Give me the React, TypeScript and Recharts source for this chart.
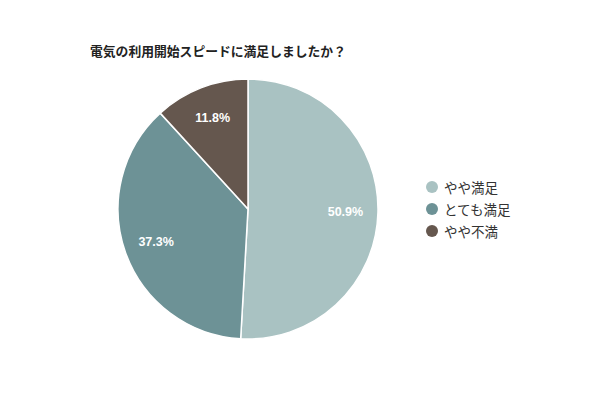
import React from "react";
import { PieChart, Pie, Cell, Legend } from "recharts";

const categories = ["やや満足", "とても満足", "やや不満"];
const values = [50.9, 37.3, 11.8];
const colors = ["#a9c2c2", "#6d9296", "#65574e"];
const title = "電気の利用開始スピードに満足しましたか？";

const data = categories.map((name, i) => ({ name, value: values[i] }));

const RADIAN = Math.PI / 180;

const renderLabel = (props: any) => {
  const { cx, cy, midAngle, outerRadius, value } = props;
  const r = outerRadius * 0.75;
  const x = cx + r * Math.cos(-midAngle * RADIAN);
  const y = cy + r * Math.sin(-midAngle * RADIAN);
  return (
    <text
      x={x}
      y={y}
      fill="#ffffff"
      textAnchor="middle"
      dominantBaseline="central"
      fontFamily="'Liberation Sans', Arial, sans-serif"
      fontWeight="bold"
      fontSize={12.5}
    >
      {value.toFixed(1)}%
    </text>
  );
};

const renderLegend = () => (
  <div style={{ fontFamily: "'Noto Sans CJK JP', sans-serif", fontSize: 13.5, color: "#333" }}>
    {categories.map((c, i) => (
      <div key={c} style={{ display: "flex", alignItems: "center", height: 22 }}>
        <span
          style={{
            width: 12,
            height: 12,
            borderRadius: 6,
            background: colors[i],
            display: "inline-block",
            marginRight: 6,
          }}
        />
        <span>{c}</span>
      </div>
    ))}
  </div>
);

export default function App() {
  return (
    <div style={{ position: "absolute", left: 0, top: 0, width: 600, height: 400, background: "#fff" }}>
      <div
        style={{
          position: "absolute",
          left: 90,
          top: 43,
          fontFamily: "'Noto Sans CJK JP', sans-serif",
          fontWeight: "bold",
          fontSize: 12.8,
          color: "#222",
          whiteSpace: "nowrap",
          lineHeight: "16px",
        }}
      >
        {title}
      </div>
      <PieChart width={600} height={400} margin={{ top: 0, right: 0, bottom: 0, left: 0 }}>
        <Pie
          data={data}
          dataKey="value"
          nameKey="name"
          cx={248}
          cy={209}
          outerRadius={130}
          startAngle={90}
          endAngle={-270}
          stroke="#ffffff"
          strokeWidth={1.5}
          label={renderLabel}
          labelLine={false}
          isAnimationActive={false}
        >
          {data.map((d, i) => (
            <Cell key={d.name} fill={colors[i]} />
          ))}
        </Pie>
        <Legend
          content={renderLegend}
          wrapperStyle={{ position: "absolute", left: 426, top: 176, width: 120 }}
        />
      </PieChart>
    </div>
  );
}
